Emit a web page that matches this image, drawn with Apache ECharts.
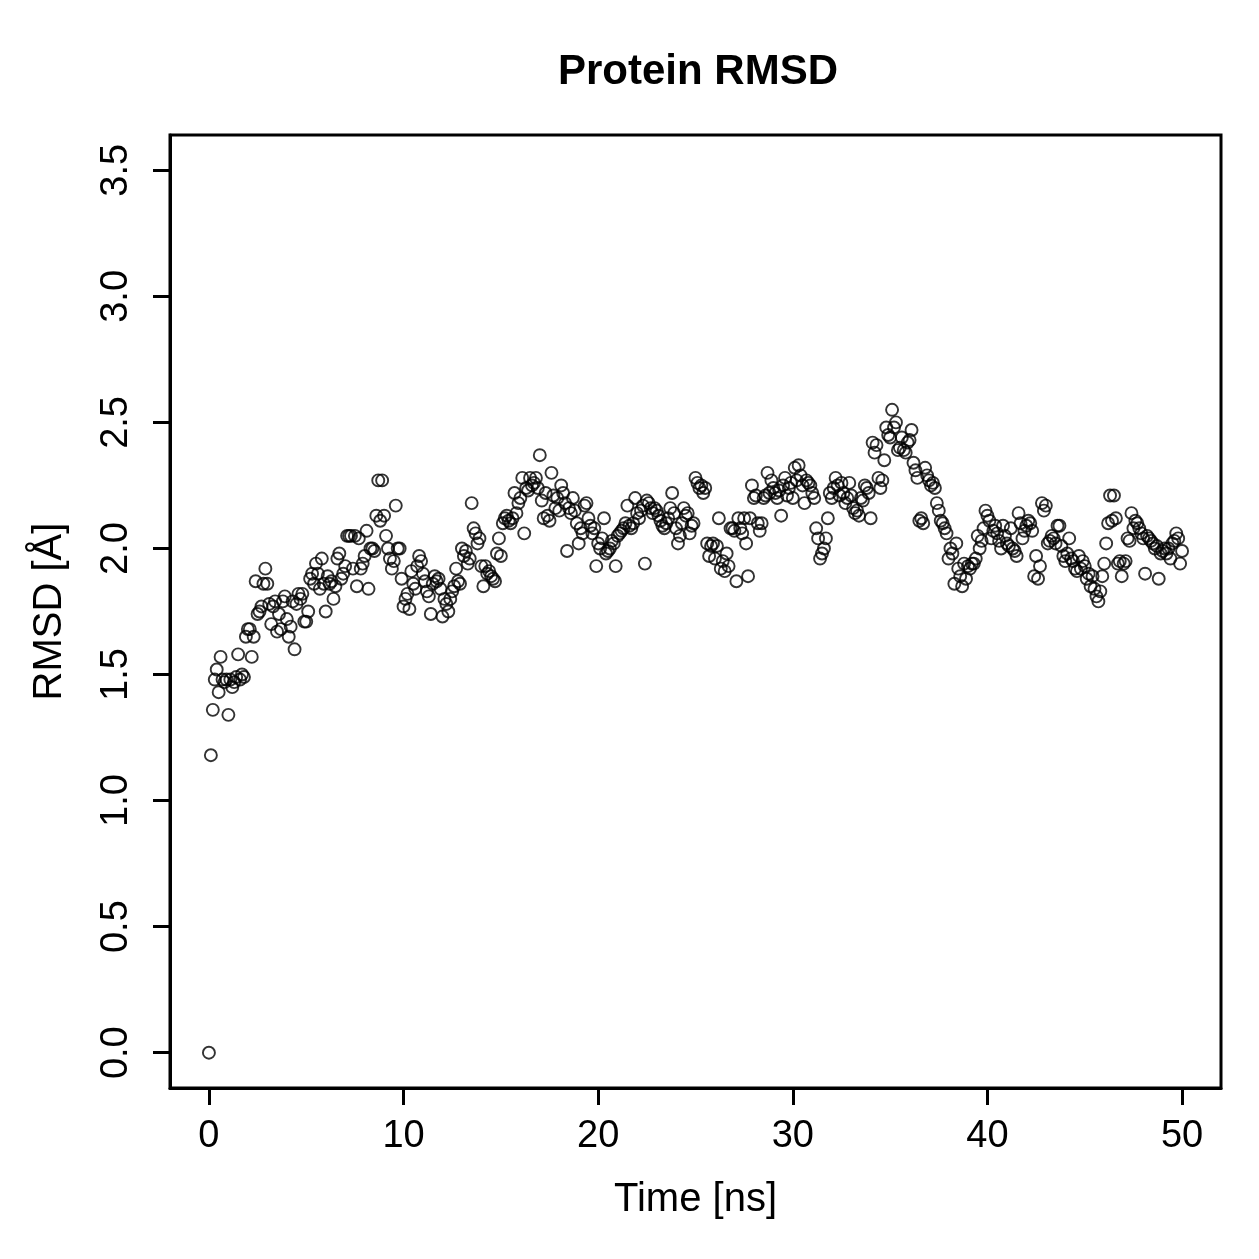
<!DOCTYPE html>
<html>
<head>
<meta charset="utf-8">
<script src="https://cdn.jsdelivr.net/npm/echarts@6/dist/echarts.min.js"></script>
<style>html,body{margin:0;padding:0;background:#fff;}#chart{width:1259px;height:1259px;}</style>
</head>
<body>
<div id="chart"></div>
<script>
// Sampling interval of the trajectory (ns)
const timeStep = 0.1;
// RMSD values (Å), one row per nanosecond (10 frames each)
const rmsd00 = [0.00, 1.18, 1.36, 1.48, 1.52, 1.43, 1.57, 1.48, 1.47, 1.48];
const rmsd01 = [1.34, 1.48, 1.45, 1.47, 1.49, 1.58, 1.48, 1.50, 1.49, 1.65];
const rmsd02 = [1.68, 1.68, 1.57, 1.65, 1.87, 1.74, 1.75, 1.77, 1.86, 1.92];
const rmsd03 = [1.86, 1.78, 1.70, 1.77, 1.79, 1.67, 1.74, 1.68, 1.79, 1.81];
const rmsd04 = [1.72, 1.65, 1.69, 1.79, 1.60, 1.78, 1.82, 1.80, 1.82, 1.71];
const rmsd05 = [1.71, 1.75, 1.88, 1.90, 1.86, 1.94, 1.90, 1.84, 1.96, 1.86];
const rmsd06 = [1.75, 1.89, 1.86, 1.87, 1.80, 1.85, 1.96, 1.98, 1.88, 1.90];
const rmsd07 = [1.93, 2.05, 2.05, 2.05, 1.92, 2.05, 1.85, 2.04, 1.92, 1.94];
const rmsd08 = [1.97, 2.07, 1.84, 2.00, 2.00, 1.99, 2.13, 2.27, 2.11, 2.27];
const rmsd09 = [2.13, 2.05, 2.00, 1.96, 1.92, 1.95, 2.17, 2.00, 2.00, 1.88];
const rmsd10 = [1.77, 1.80, 1.82, 1.76, 1.91, 1.86, 1.84, 1.93, 1.97, 1.95];
const rmsd11 = [1.90, 1.87, 1.83, 1.81, 1.74, 1.86, 1.89, 1.87, 1.88, 1.84];
const rmsd12 = [1.73, 1.80, 1.78, 1.75, 1.80, 1.83, 1.85, 1.92, 1.87, 1.86];
const rmsd13 = [2.00, 1.97, 1.99, 1.94, 1.96, 2.18, 2.08, 2.06, 2.02, 2.04];
const rmsd14 = [1.93, 1.85, 1.93, 1.90, 1.91, 1.89, 1.88, 1.87, 1.98, 2.04];
const rmsd15 = [1.97, 2.10, 2.12, 2.13, 2.11, 2.10, 2.12, 2.22, 2.14, 2.18];
const rmsd16 = [2.20, 2.28, 2.06, 2.24, 2.23, 2.28, 2.25, 2.26, 2.28, 2.24];
const rmsd17 = [2.37, 2.19, 2.12, 2.22, 2.13, 2.11, 2.30, 2.21, 2.16, 2.20];
const rmsd18 = [2.15, 2.25, 2.22, 2.18, 1.99, 2.16, 2.14, 2.20, 2.15, 2.10];
const rmsd19 = [2.02, 2.08, 2.06, 2.17, 2.18, 2.12, 2.09, 2.06, 2.08, 1.93];
const rmsd20 = [2.02, 2.00, 2.04, 2.12, 1.98, 1.99, 2.00, 2.03, 2.02, 1.93];
const rmsd21 = [2.05, 2.06, 2.07, 2.08, 2.10, 2.17, 2.09, 2.08, 2.10, 2.20];
const rmsd22 = [2.14, 2.12, 2.15, 2.17, 1.94, 2.19, 2.18, 2.16, 2.14, 2.16];
const rmsd23 = [2.15, 2.13, 2.11, 2.09, 2.08, 2.10, 2.12, 2.16, 2.22, 2.14];
const rmsd24 = [2.08, 2.02, 2.05, 2.10, 2.16, 2.13, 2.14, 2.06, 2.09, 2.10];
const rmsd25 = [2.28, 2.26, 2.24, 2.25, 2.22, 2.24, 2.02, 1.97, 2.01, 2.02];
const rmsd26 = [1.96, 2.01, 2.12, 1.92, 1.95, 1.91, 1.98, 1.93, 2.08, 2.08];
const rmsd27 = [2.07, 1.87, 2.12, 2.08, 2.06, 2.12, 2.02, 1.89, 2.12, 2.25];
const rmsd28 = [2.20, 2.21, 2.10, 2.07, 2.10, 2.20, 2.21, 2.30, 2.22, 2.27];
const rmsd29 = [2.24, 2.22, 2.20, 2.23, 2.13, 2.25, 2.28, 2.21, 2.24, 2.26];
const rmsd30 = [2.20, 2.32, 2.27, 2.33, 2.29, 2.25, 2.18, 2.27, 2.26, 2.25];
const rmsd31 = [2.22, 2.20, 2.08, 2.04, 1.96, 1.98, 2.00, 2.04, 2.12, 2.22];
const rmsd32 = [2.20, 2.24, 2.28, 2.25, 2.21, 2.26, 2.22, 2.18, 2.20, 2.26];
const rmsd33 = [2.21, 2.16, 2.14, 2.15, 2.13, 2.20, 2.19, 2.25, 2.24, 2.22];
const rmsd34 = [2.12, 2.42, 2.38, 2.41, 2.28, 2.24, 2.27, 2.35, 2.48, 2.45];
const rmsd35 = [2.44, 2.55, 2.48, 2.50, 2.39, 2.40, 2.44, 2.39, 2.38, 2.42];
const rmsd36 = [2.43, 2.47, 2.34, 2.31, 2.28, 2.11, 2.12, 2.10, 2.32, 2.29];
const rmsd37 = [2.27, 2.25, 2.26, 2.24, 2.18, 2.15, 2.11, 2.10, 2.08, 2.06];
const rmsd38 = [1.96, 2.00, 1.98, 1.86, 2.02, 1.92, 1.89, 1.85, 1.94, 1.88];
const rmsd39 = [1.93, 1.92, 1.94, 1.94, 1.96, 2.05, 2.00, 2.03, 2.08, 2.15];
const rmsd40 = [2.13, 2.11, 2.04, 2.07, 2.09, 2.06, 2.03, 2.00, 2.09, 2.05];
const rmsd41 = [2.02, 2.01, 2.08, 2.00, 1.99, 1.97, 2.14, 2.10, 2.04, 2.07];
const rmsd42 = [2.09, 2.11, 2.10, 2.07, 1.89, 1.97, 1.88, 1.93, 2.18, 2.15];
const rmsd43 = [2.17, 2.02, 2.03, 2.05, 2.04, 2.02, 2.09, 2.09, 2.01, 1.97];
const rmsd44 = [1.95, 1.98, 2.04, 1.96, 1.95, 1.92, 1.91, 1.97, 1.92, 1.95];
const rmsd45 = [1.93, 1.88, 1.90, 1.85, 1.89, 1.84, 1.81, 1.79, 1.83, 1.89];
const rmsd46 = [1.94, 2.02, 2.10, 2.21, 2.11, 2.21, 2.12, 1.94, 1.95, 1.89];
const rmsd47 = [1.94, 1.95, 2.04, 2.03, 2.14, 2.08, 2.11, 2.10, 2.08, 2.06];
const rmsd48 = [2.04, 1.90, 2.05, 2.04, 2.03, 2.02, 2.00, 2.01, 1.88, 1.98];
const rmsd49 = [1.99, 2.00, 1.98, 2.00, 1.96, 2.02, 2.03, 2.06, 2.04, 1.94];
const rmsd50 = [1.99];

const xTicks = [0, 10, 20, 30, 40, 50];
const yTicks = [0.0, 0.5, 1.0, 1.5, 2.0, 2.5, 3.0, 3.5];

const rows = [rmsd00, rmsd01, rmsd02, rmsd03, rmsd04, rmsd05, rmsd06, rmsd07, rmsd08, rmsd09,
  rmsd10, rmsd11, rmsd12, rmsd13, rmsd14, rmsd15, rmsd16, rmsd17, rmsd18, rmsd19,
  rmsd20, rmsd21, rmsd22, rmsd23, rmsd24, rmsd25, rmsd26, rmsd27, rmsd28, rmsd29,
  rmsd30, rmsd31, rmsd32, rmsd33, rmsd34, rmsd35, rmsd36, rmsd37, rmsd38, rmsd39,
  rmsd40, rmsd41, rmsd42, rmsd43, rmsd44, rmsd45, rmsd46, rmsd47, rmsd48, rmsd49, rmsd50];
const rmsd = [].concat(...rows);
const points = rmsd.map((v, i) => [Math.round(i * timeStep * 10) / 10, v]);

const FONT = '"Liberation Sans", Arial, Helvetica, sans-serif';
const chart = echarts.init(document.getElementById('chart'), null, {renderer: 'canvas'});
chart.setOption({
  animation: false,
  backgroundColor: '#ffffff',
  title: {
    text: 'Protein RMSD',
    left: 693, top: 46, textAlign: 'center',
    textStyle: {fontFamily: FONT, fontWeight: 'bold', fontSize: 42, color: '#000'}
  },
  grid: {
    left: 170, right: 38, top: 135, bottom: 171,
    show: true, borderColor: '#000', borderWidth: 3, backgroundColor: 'transparent'
  },
  xAxis: {
    type: 'value', min: -2, max: 52,
    name: 'Time [ns]', nameLocation: 'middle', nameGap: 92,
    nameTextStyle: {fontFamily: FONT, fontSize: 40, color: '#000'},
    axisLine: {show: true, onZero: false, lineStyle: {color: '#000', width: 3}},
    splitLine: {show: false},
    axisTick: {show: true, customValues: xTicks, length: 17, lineStyle: {color: '#000', width: 3}},
    axisLabel: {customValues: xTicks, margin: 30, fontFamily: FONT, fontSize: 38, color: '#000'}
  },
  yAxis: {
    type: 'value', min: -0.14, max: 3.64,
    name: 'RMSD [Å]', nameLocation: 'middle', nameGap: 100, nameRotate: 90,
    nameTextStyle: {fontFamily: FONT, fontSize: 40, color: '#000'},
    axisLine: {show: true, onZero: false, lineStyle: {color: '#000', width: 3}},
    splitLine: {show: false},
    axisTick: {show: true, customValues: yTicks, length: 17, lineStyle: {color: '#000', width: 3}},
    axisLabel: {customValues: yTicks, rotate: 90, margin: 34, fontFamily: FONT, fontSize: 38, color: '#000',
      formatter: v => v.toFixed(1)}
  },
  series: [{
    type: 'scatter',
    data: points,
    symbol: 'circle',
    symbolSize: 12,
    itemStyle: {color: 'rgba(255,255,255,0)', borderColor: '#000', borderWidth: 1.9},
    emphasis: {disabled: true}
  }]
});
</script>
</body>
</html>
